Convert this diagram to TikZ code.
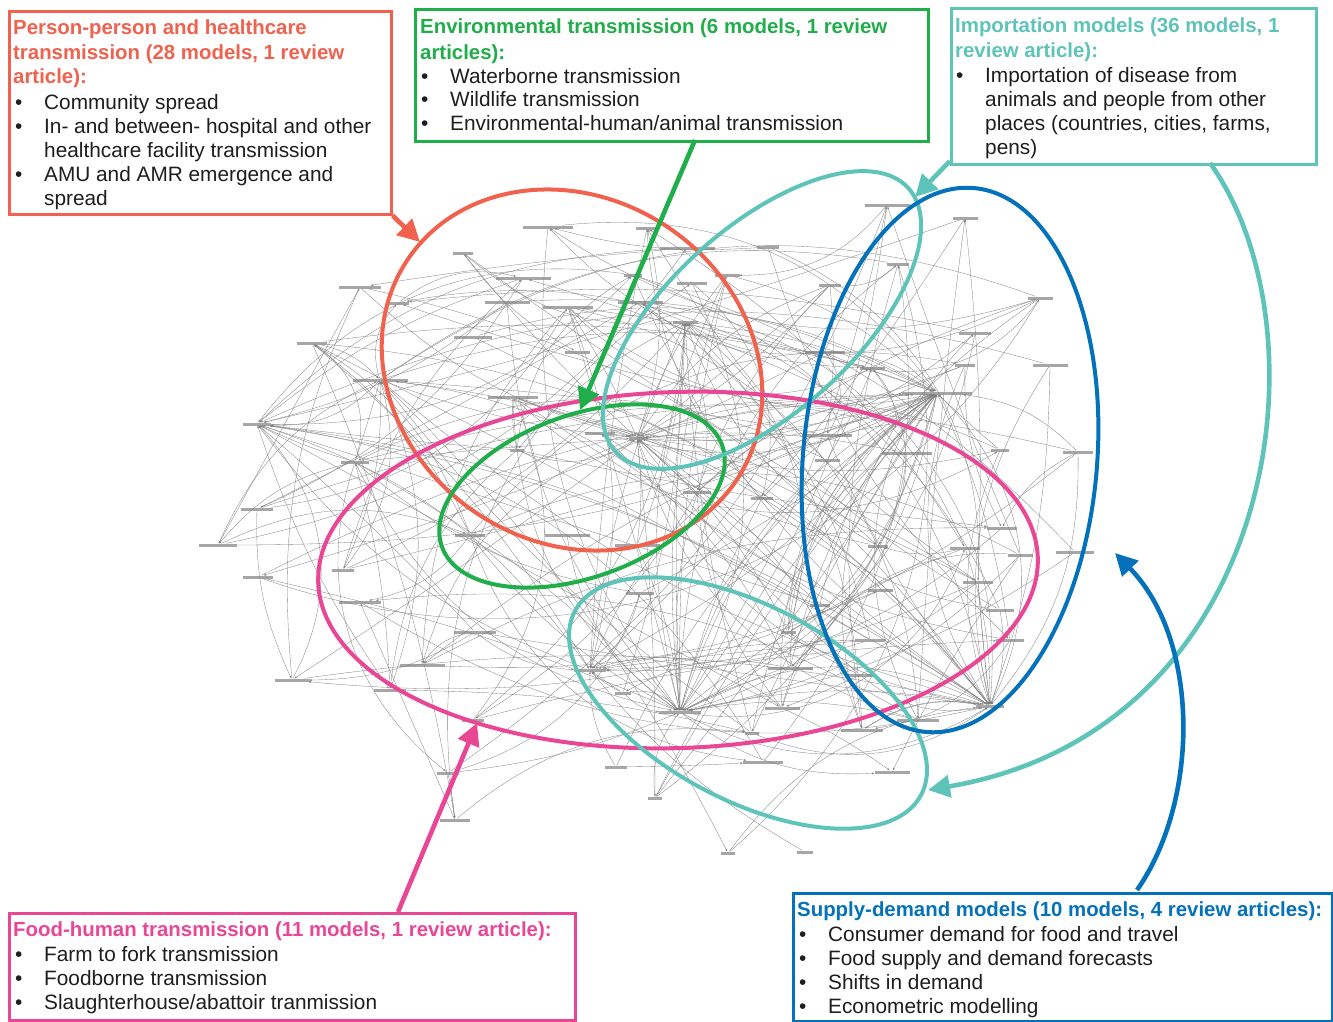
\documentclass[tikz,border=0pt]{standalone}
\usepackage{fontspec}
\setmainfont{Liberation Sans}
\usetikzlibrary{arrows.meta}
\definecolor{redc}{RGB}{240,98,78}
\definecolor{greenc}{RGB}{32,174,74}
\definecolor{tealc}{RGB}{94,196,186}
\definecolor{pinkc}{RGB}{234,70,150}
\definecolor{bluec}{RGB}{4,114,186}
\definecolor{txtc}{RGB}{30,30,30}
\begin{document}
\begin{tikzpicture}[x=1pt,y=-1pt,
  netn/.style={rectangle, fill=gray!70, minimum height=3pt, inner sep=0pt},
  netedge/.style={draw=black!50, line width=0.32pt, -{Stealth[length=2.6pt,width=2pt]}},
  boxframe/.style={draw=#1, line width=2.6pt, fill=white, rectangle, inner sep=0pt, anchor=north west},
  ttl/.style={font=\fontsize{20.4}{24}\selectfont\bfseries, text=#1, inner sep=0pt, anchor=base west},
  itm/.style={font=\fontsize{20.8}{24}\selectfont, text=txtc, inner sep=0pt, anchor=base west},
  ring/.style={draw=#1, line width=4pt},
  callout/.style={draw=#1, line width=4.6pt, -{Triangle[length=22pt,width=22pt]}}]
\useasboundingbox (0,0) rectangle (1333,1021);

% ---------- background network ----------
\foreach [count=\i] \x/\y/\w in {
 360/287/42, 398/303/22, 312/343/30, 380/380/55, 257/424/28, 355/462/28, 257/509/32, 218/545/38,
 548/227/50, 463/253/20, 647/228/22, 687/248/55, 768/247/22, 523/278/55, 507/302/45, 568/307/50,
 473/337/38, 577/352/25, 633/275/18, 692/283/30, 640/302/45, 685/322/25, 727/275/25, 513/397/50,
 600/433/30, 637/438/16, 517/450/14, 697/492/28, 762/498/22, 470/535/30, 567/535/45, 637/545/45,
 887/205/45, 898/264/22, 830/285/22, 872/368/25, 825/352/40, 937/393/70, 897/423/10, 827/435/50,
 827/460/25, 907/453/50, 965/218/25, 1040/298/25, 975/333/32, 965/365/20, 1050/365/35, 1000/450/18,
 1078/452/30, 1002/528/30, 1020/555/25, 1075/552/38, 965/548/30, 878/546/20, 978/582/30, 1000/610/28,
 1010/640/28, 880/590/25, 990/706/28, 918/720/42, 820/605/20, 870/640/30, 860/675/30, 788/632/15,
 790/668/45, 782/708/35, 862/730/42, 752/733/14, 763/762/40, 892/772/35, 680/712/42, 590/670/32,
 623/693/16, 640/593/28, 616/767/22, 655/798/14, 728/853/14, 805/852/16, 343/570/22, 360/602/42,
 475/632/42, 422/665/45, 390/690/32, 473/720/22, 448/773/22, 258/577/30, 292/680/35, 455/820/30}
 \node[netn, minimum width=\w] (n\i) at (\x,\y) {};

\pgfmathsetseed{20}
\foreach \k in {1,...,170}{
  \pgfmathtruncatemacro\sa{random(1,88)}
  \pgfmathtruncatemacro\hi{random(0,11)}
  \pgfmathtruncatemacro\sb{{26,22,38,59,71,72,5,4,26,71,38,59}[\hi]}
  \pgfmathtruncatemacro\bb{random(0,60)-30}
  \ifnum\sa=\sb\relax\else
    \draw[netedge] (n\sa) to[bend left=\bb] (n\sb);
  \fi
}
\foreach \k in {1,...,140}{
  \pgfmathtruncatemacro\sa{random(1,88)}
  \pgfmathtruncatemacro\sb{random(1,88)}
  \pgfmathtruncatemacro\bb{random(0,80)-40}
  \ifnum\sa=\sb\relax\else
    \draw[netedge] (n\sa) to[bend left=\bb] (n\sb);
  \fi
}

% ---------- ellipses ----------
\draw[ring=redc] (572,370) ellipse [x radius=198, y radius=172, rotate=-34];
\draw[ring=pinkc] (678,570) ellipse [x radius=360, y radius=178, rotate=2];
\draw[ring=greenc] (582,496) ellipse [x radius=149, y radius=81, rotate=20];
\draw[ring=tealc] (762,320) ellipse [x radius=197, y radius=93, rotate=42];
\draw[ring=tealc] (748,703) ellipse [x radius=196, y radius=97, rotate=-28];
\draw[ring=bluec] (950,460) ellipse [x radius=147, y radius=273, rotate=-5];

% ---------- boxes ----------
\node[boxframe=redc, minimum width=382pt, minimum height=203pt] (boxR) at (8,10) {};
\node[boxframe=greenc, minimum width=513pt, minimum height=132pt] (boxG) at (414,8) {};
\node[boxframe=tealc, minimum width=365pt, minimum height=156pt] (boxT) at (950,7) {};
\node[boxframe=pinkc, minimum width=566pt, minimum height=107pt] (boxP) at (8,912) {};
\node[boxframe=bluec, minimum width=539pt, minimum height=128pt] (boxB) at (792,892) {};

% red box text
\node[ttl=redc] (rt1) at (13,34.3) {Person-person and healthcare};
\node[ttl=redc] (rt2) at (13,59) {transmission (28 models, 1 review};
\node[ttl=redc] (rt3) at (13,83.7) {article):};
\node[itm] (rb1) at (15,109) {•};
\node[itm] (ri1) at (44,109) {Community spread};
\node[itm] (rb2) at (15,133) {•};
\node[itm] (ri2) at (44,133) {In- and between- hospital and other};
\node[itm] (ri3) at (44,157) {healthcare facility transmission};
\node[itm] (rb3) at (15,181.5) {•};
\node[itm] (ri4) at (44,181.5) {AMU and AMR emergence and};
\node[itm] (ri5) at (44,205) {spread};

% green box text
\node[ttl=greenc] (gt1) at (420,33.3) {Environmental transmission (6 models, 1 review};
\node[ttl=greenc] (gt2) at (420,59.3) {articles):};
\node[itm] (gb1) at (421,83.3) {•};
\node[itm] (gi1) at (450,83.3) {Waterborne transmission};
\node[itm] (gb2) at (421,106.7) {•};
\node[itm] (gi2) at (450,106.7) {Wildlife transmission};
\node[itm] (gb3) at (421,130) {•};
\node[itm] (gi3) at (450,130) {Environmental-human/animal transmission};

% teal box text
\node[ttl=tealc] (tt1) at (955,32) {Importation models (36 models, 1};
\node[ttl=tealc] (tt2) at (955,57) {review article):};
\node[itm] (tb1) at (956,82) {•};
\node[itm] (ti1) at (985,82) {Importation of disease from};
\node[itm] (ti2) at (985,106) {animals and people from other};
\node[itm] (ti3) at (985,130.5) {places (countries, cities, farms,};
\node[itm] (ti4) at (985,154) {pens)};

% pink box text
\node[ttl=pinkc] (pt1) at (13,936) {Food-human transmission (11 models, 1 review article):};
\node[itm] (pb1) at (15,961) {•};
\node[itm] (pi1) at (44,961) {Farm to fork transmission};
\node[itm] (pb2) at (15,985.5) {•};
\node[itm] (pi2) at (44,985.5) {Foodborne transmission};
\node[itm] (pb3) at (15,1009.5) {•};
\node[itm] (pi3) at (44,1009.5) {Slaughterhouse/abattoir tranmission};

% blue box text
\node[ttl=bluec] (bt1) at (797,916.5) {Supply-demand models (10 models, 4 review articles):};
\node[itm] (bb1) at (799,941) {•};
\node[itm] (bi1) at (828,941) {Consumer demand for food and travel};
\node[itm] (bb2) at (799,965) {•};
\node[itm] (bi2) at (828,965) {Food supply and demand forecasts};
\node[itm] (bb3) at (799,989.5) {•};
\node[itm] (bi3) at (828,989.5) {Shifts in demand};
\node[itm] (bb4) at (799,1013.5) {•};
\node[itm] (bi4) at (828,1013.5) {Econometric modelling};

% ---------- callout arrows ----------
\coordinate (rT) at (420,242);
\coordinate (gS) at (695,140);
\coordinate (gT) at (580,410);
\coordinate (tS1) at (950,161);
\coordinate (tT1) at (915,197);
\coordinate (tS2) at (1210,163);
\coordinate (tT2) at (928,790);
\coordinate (pS) at (398,912);
\coordinate (pT) at (477,723);
\coordinate (bS) at (1137,890);
\coordinate (bT) at (1115,553);

\draw[callout=redc] (boxR.south east) -- (rT);
\draw[callout=greenc] (gS) -- (gT);
\draw[callout=tealc] (tS1) -- (tT1);
\draw[callout=tealc] (tS2) .. controls (1330,330) and (1280,730) .. (tT2);
\draw[callout=pinkc] (pS) -- (pT);
\draw[callout=bluec] (bS) .. controls (1200,800) and (1200,640) .. (bT);
\end{tikzpicture}
\end{document}
